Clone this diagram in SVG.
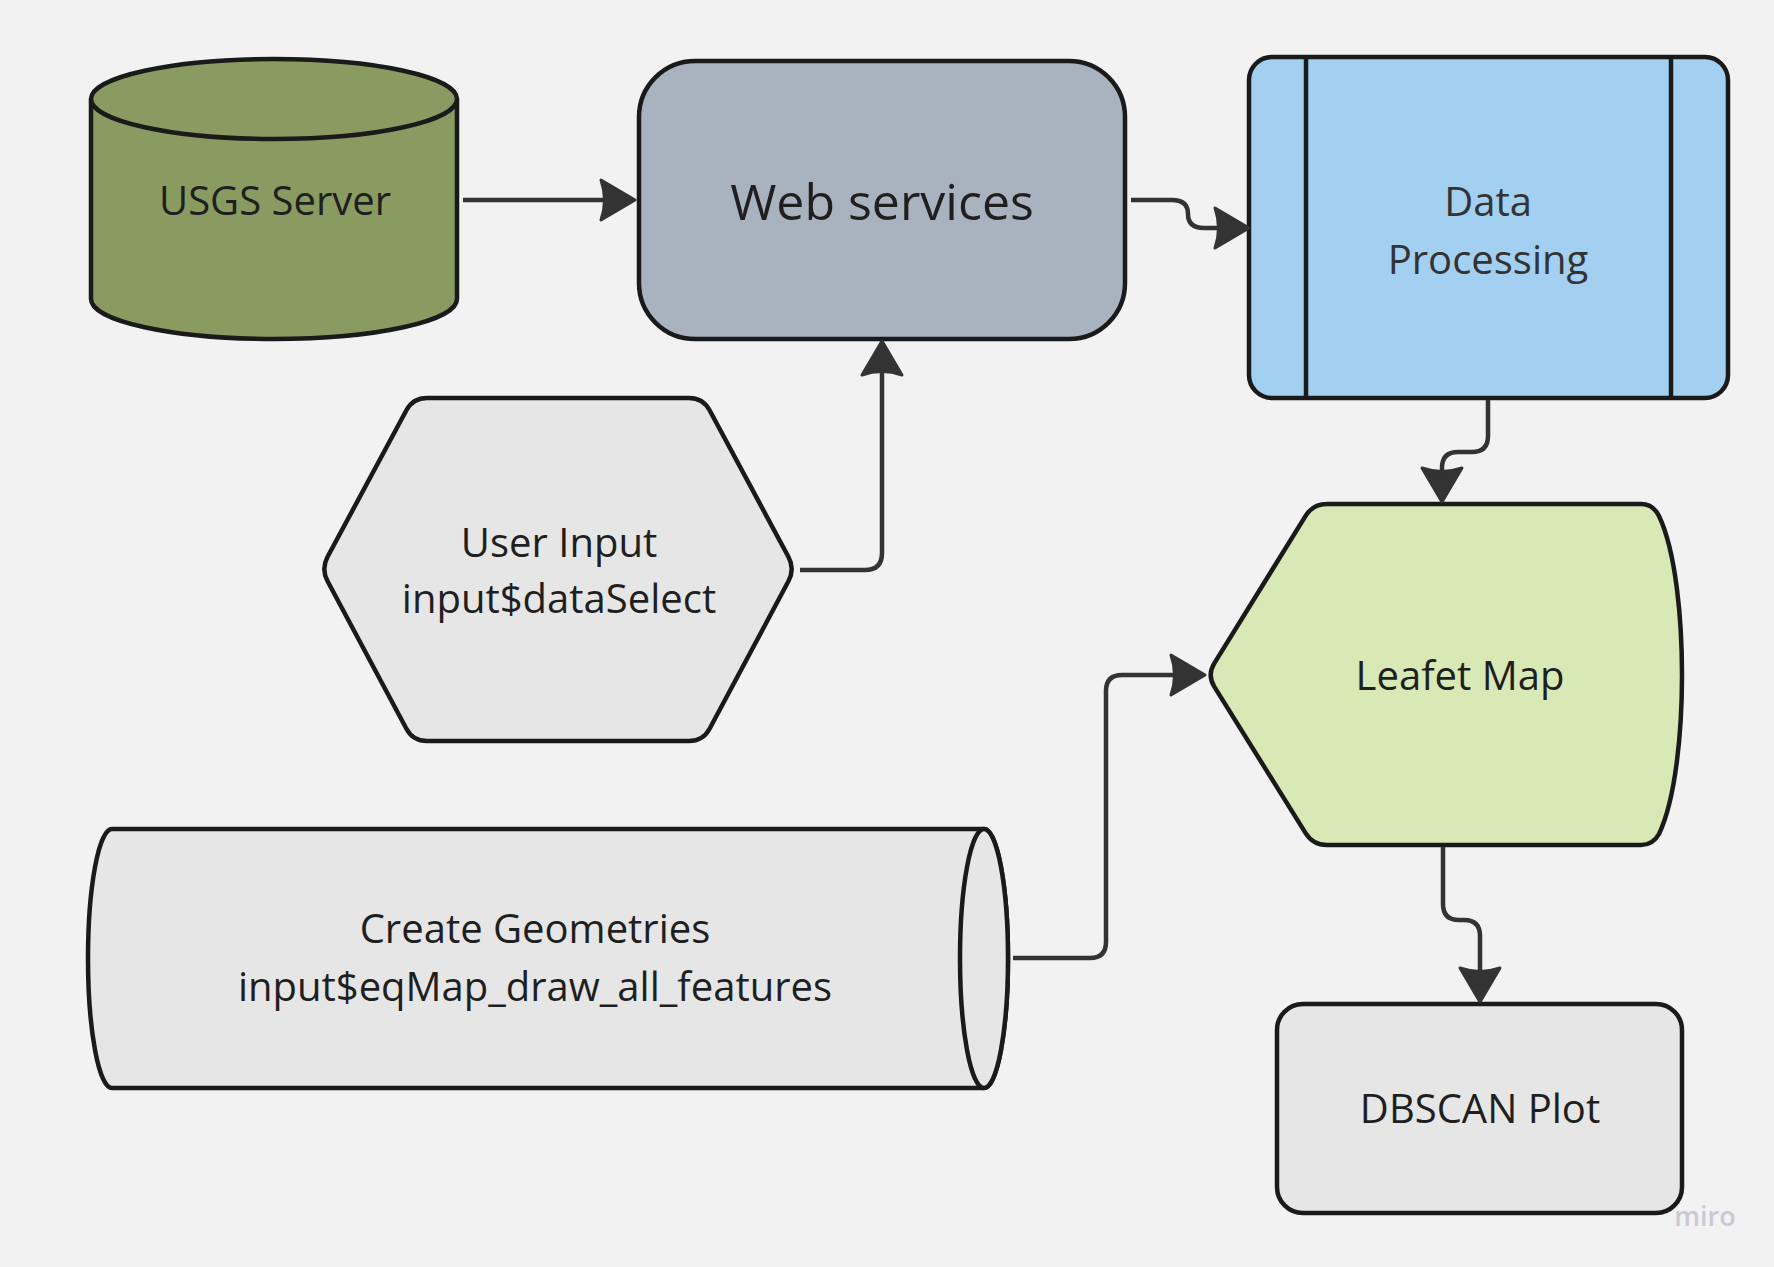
<svg xmlns="http://www.w3.org/2000/svg" width="1774" height="1267" viewBox="0 0 1774 1267">
<defs>
<style>
.node{stroke:#1a1a1a;stroke-width:4.5;stroke-linejoin:round}
.lbl{font-family:"Open Sans","Noto Sans","Liberation Sans",sans-serif;font-size:40px;fill:#1f1f1f;text-anchor:middle}
.conn{fill:none;stroke:#333333;stroke-width:4.5;stroke-linejoin:round}
</style>
<marker id="arr" viewBox="-40 -26 44 52" refX="-10" refY="0" markerWidth="44" markerHeight="52" markerUnits="userSpaceOnUse" orient="auto">
<path d="M0,0 L-34,-20 Q-27,0 -34,20 Z" fill="#333333" stroke="#333333" stroke-width="3" stroke-linejoin="round"/>
</marker>
</defs>
<rect x="0" y="0" width="1774" height="1267" fill="#f2f2f2"/>

<g id="usgs-server">
<path class="node" fill="#8a9b61" d="M91,99 V299 A183,40 0 0 0 457,299 V99"/>
<ellipse class="node" fill="#8a9b61" cx="274" cy="99" rx="183" ry="40"/>
<text class="lbl" x="275" y="215">USGS Server</text>
</g>

<g id="web-services">
<rect class="node" fill="#a9b3bf" x="639" y="61" width="486" height="278" rx="56" ry="56"/>
<text class="lbl" x="882" y="220" style="font-size:50px">Web services</text>
</g>

<g id="data-processing">
<rect class="node" fill="#a3cff0" x="1249" y="57" width="479" height="341" rx="23" ry="23"/>
<line class="node" x1="1306" y1="57" x2="1306" y2="398"/>
<line class="node" x1="1671" y1="57" x2="1671" y2="398"/>
<text class="lbl" x="1488" y="216" style="fill:#333333">Data</text>
<text class="lbl" x="1488" y="274" style="fill:#333333">Processing</text>
</g>

<g id="user-input">
<path class="node" fill="#e6e6e6" d="M327.6,556.7 L406.4,410.3 Q413,398 427,398 L689,398 Q703,398 709.6,410.3 L788.4,556.7 Q795,569 788.4,581.3 L709.6,728.7 Q703,741 689,741 L427,741 Q413,741 406.4,728.7 L327.6,581.3 Q321,569 327.6,556.7 Z"/>
<text class="lbl" x="559" y="557">User Input</text>
<text class="lbl" x="559" y="613">input$dataSelect</text>
</g>

<g id="leafet-map">
<path class="node" fill="#d8e9b6" d="M1214.4,663.1 L1305.6,515.9 Q1313,504 1327,504 L1641,504 Q1653,504 1659,516 C1676,552 1682,620 1682,675 C1682,730 1676,798 1659,834 Q1653,845 1641,845 L1327,845 Q1313,845 1305.6,833.1 L1214.4,686.9 Q1207,675 1214.4,663.1 Z"/>
<text class="lbl" x="1460" y="690">Leafet Map</text>
</g>

<g id="create-geometries">
<path class="node" fill="#e6e6e6" d="M112,829 H984 A24,129.5 0 0 1 984,1088 H112 A24,129.5 0 0 1 112,829 Z"/>
<ellipse class="node" fill="#e6e6e6" cx="984" cy="958.5" rx="24" ry="129.5"/>
<text class="lbl" x="535" y="943">Create Geometries</text>
<text class="lbl" x="535" y="1001">input$eqMap_draw_all_features</text>
</g>

<g id="dbscan-plot">
<rect class="node" fill="#e6e6e6" x="1277" y="1004" width="405" height="209" rx="26" ry="26"/>
<text class="lbl" x="1480" y="1123">DBSCAN Plot</text>
</g>

<g id="connectors">
<path class="conn" marker-end="url(#arr)" d="M463,200 H625"/>
<path class="conn" marker-end="url(#arr)" d="M1131,200 H1172 Q1188,200 1188,214 Q1188,228 1204,228 H1239"/>
<path class="conn" marker-end="url(#arr)" d="M800,570 H865 Q882,570 882,553 V351"/>
<path class="conn" marker-end="url(#arr)" d="M1488,400 V436 Q1488,452 1472,452 H1458 Q1442,452 1442,468 V492"/>
<path class="conn" marker-end="url(#arr)" d="M1013,958 H1090 Q1106,958 1106,942 V691 Q1106,675 1122,675 H1195"/>
<path class="conn" marker-end="url(#arr)" d="M1443,847 V904 Q1443,920 1459,920 H1464 Q1480,920 1480,936 V992"/>
</g>

<text x="1705" y="1226" style="font-family:'Open Sans','Noto Sans',sans-serif;font-size:27px;font-weight:600;fill:#cac9d4;text-anchor:middle">miro</text>
</svg>
